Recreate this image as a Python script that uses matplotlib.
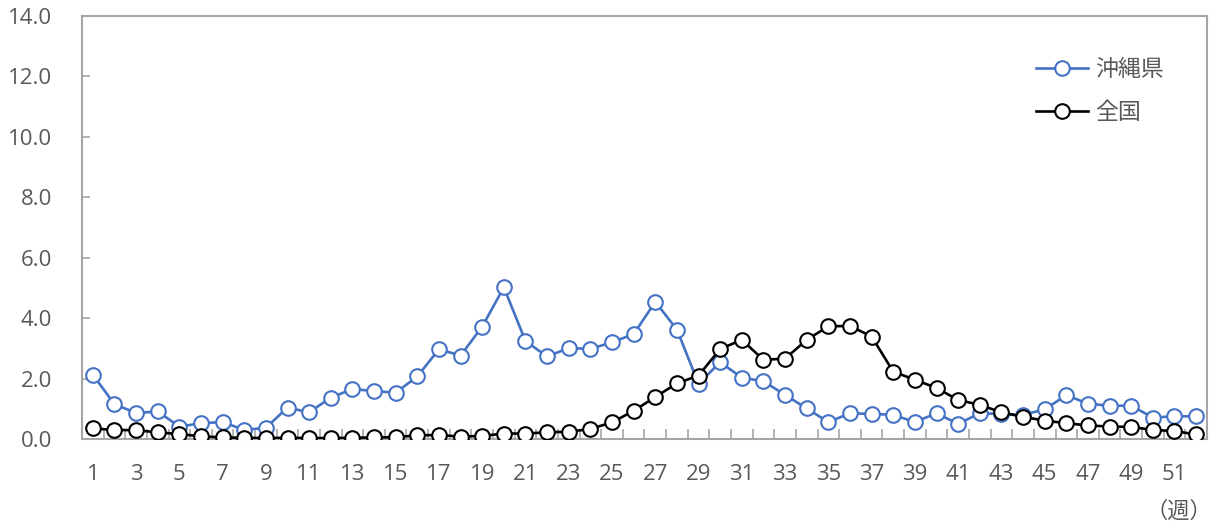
import numpy as np
import matplotlib.pyplot as plt
from matplotlib.ticker import FixedLocator, FormatStrFormatter

plt.rcParams['font.family'] = ['Open Sans', 'Noto Sans CJK JP', 'DejaVu Sans']

weeks = np.arange(1, 53)

# 沖縄県 (blue)
okinawa = [2.13, 1.15, 0.86, 0.91, 0.41, 0.52, 0.56, 0.30, 0.37, 1.04,
           0.88, 1.37, 1.65, 1.59, 1.53, 2.07, 2.97, 2.76, 3.72, 5.02,
           3.24, 2.73, 3.01, 2.98, 3.20, 3.47, 4.54, 3.62, 1.83, 2.54,
           2.03, 1.91, 1.46, 1.01, 0.56, 0.85, 0.83, 0.80, 0.56, 0.85,
           0.50, 0.85, 0.83, 0.80, 0.98, 1.45, 1.17, 1.10, 1.10, 0.71,
           0.75, 0.75]

# 全国 (black)
zenkoku = [0.35, 0.30, 0.29, 0.22, 0.16, 0.09, 0.05, 0.04, 0.03, 0.04,
           0.03, 0.03, 0.04, 0.05, 0.06, 0.12, 0.13, 0.08, 0.10, 0.18,
           0.18, 0.22, 0.24, 0.33, 0.55, 0.93, 1.39, 1.84, 2.10, 2.98,
           3.28, 2.62, 2.66, 3.28, 3.73, 3.74, 3.39, 2.23, 1.96, 1.69,
           1.29, 1.13, 0.88, 0.73, 0.61, 0.52, 0.45, 0.41, 0.40, 0.30,
           0.26, 0.15]

xtick_labels = [str(w) for w in range(1, 52, 2)]

fig = plt.figure(figsize=(12.13, 5.31), dpi=100)
ax = fig.add_axes([0.0676, 0.1733, 0.9274, 0.7966])

ax.plot(weeks, okinawa, color='#4472C4', lw=1.9, marker='o', ms=10.5,
        mfc='white', mec='#4472C4', mew=1.5, label='沖縄県', zorder=3)
ax.plot(weeks, zenkoku, color='black', lw=1.9, marker='o', ms=10.5,
        mfc='white', mec='black', mew=1.5, label='全国', zorder=4)

ax.set_xlim(0.5, 52.5)
ax.set_ylim(0, 14)
ax.set_yticks(np.arange(0, 14.1, 2))
ax.yaxis.set_major_formatter(FormatStrFormatter('%.1f'))
ax.set_xticks(range(1, 52, 2))
ax.set_xticklabels(xtick_labels)
ax.xaxis.set_minor_locator(FixedLocator(np.arange(1.5, 52, 1)))

grey = '#A6A6A6'
for sp in ax.spines.values():
    sp.set_color(grey)
    sp.set_linewidth(1.5)

ax.tick_params(axis='x', which='minor', direction='in', length=7,
               width=1.2, color=grey)
ax.tick_params(axis='y', direction='in', length=6, width=1.2, color=grey,
               pad=21.5, labelsize=16, labelcolor='#595959')
ax.tick_params(axis='x', which='major', direction='out', length=0, pad=18,
               labelsize=16, labelcolor='#595959')

ax.legend(loc='upper right', bbox_to_anchor=(0.98, 0.95), frameon=False,
          fontsize=16.5, labelcolor='#595959', handlelength=2.3,
          labelspacing=0.85, handletextpad=0.3)

fig.text(0.972, 0.035, '（週）', fontsize=16, color='#595959',
         ha='center', va='center')

fig.savefig('out.png', dpi=100)
